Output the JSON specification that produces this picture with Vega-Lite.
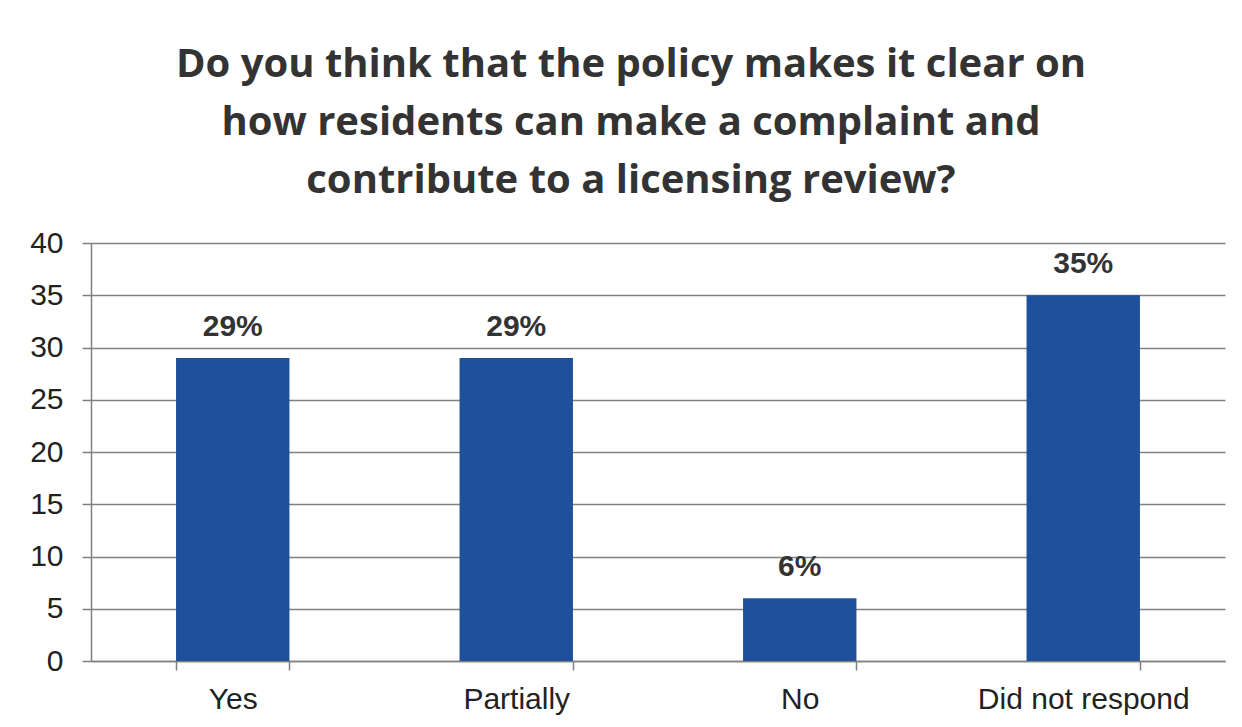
{
  "$schema": "https://vega.github.io/schema/vega-lite/v6.json",
  "width": 1134,
  "height": 418,
  "autosize": {"type": "none"},
  "padding": {"left": 91, "top": 243, "right": 17, "bottom": 66},
  "background": "white",
  "title": {
    "text": ["Do you think that the policy makes it clear on", "how residents can make a complaint and", "contribute to a licensing review?"],
    "font": "Open Sans",
    "fontSize": 40,
    "fontWeight": "bold",
    "color": "#333333",
    "lineHeight": 58,
    "anchor": "middle",
    "baseline": "alphabetic",
    "offset": 50,
    "dy": 55,
    "dx": -27
  },
  "data": {
    "values": [
      {"response": "Yes", "value": 29, "label": "29%"},
      {"response": "Partially", "value": 29, "label": "29%"},
      {"response": "No", "value": 6, "label": "6%"},
      {"response": "Did not respond", "value": 35, "label": "35%"}
    ]
  },
  "encoding": {
    "x": {
      "field": "response",
      "type": "nominal",
      "sort": null,
      "title": null,
      "scale": {"paddingInner": 0.6, "paddingOuter": 0.3},
      "axis": {
        "labelAngle": 0,
        "labelFont": "Liberation Sans",
        "labelFontSize": 30,
        "labelColor": "#222222",
        "labelPadding": 14,
        "labelLimit": 0,
        "labelOverlap": false,
        "tickBand": "extent",
        "tickSize": 9,
        "tickColor": "#808080",
        "tickWidth": 1.5,
        "domainColor": "#808080",
        "domainWidth": 1.5,
        "grid": false
      }
    }
  },
  "layer": [
    {
      "mark": {"type": "bar", "color": "#1f509a"},
      "encoding": {
        "y": {
          "field": "value",
          "type": "quantitative",
          "title": null,
          "scale": {"domain": [0, 40], "nice": false},
          "axis": {
            "values": [0, 5, 10, 15, 20, 25, 30, 35, 40],
            "labelFont": "Liberation Sans",
            "labelFontSize": 30,
            "labelColor": "#222222",
            "labelPadding": 19,
            "tickSize": 9,
            "tickColor": "#808080",
            "tickWidth": 1.5,
            "domainColor": "#808080",
            "domainWidth": 1.5,
            "grid": true,
            "gridColor": "#808080",
            "gridWidth": 1.5
          }
        }
      }
    },
    {
      "mark": {"type": "text", "font": "Liberation Sans", "fontWeight": "bold", "fontSize": 30, "color": "#333333", "baseline": "alphabetic", "dy": -22},
      "encoding": {
        "y": {"field": "value", "type": "quantitative"},
        "text": {"field": "label"}
      }
    }
  ],
  "config": {"view": {"stroke": null}}
}
